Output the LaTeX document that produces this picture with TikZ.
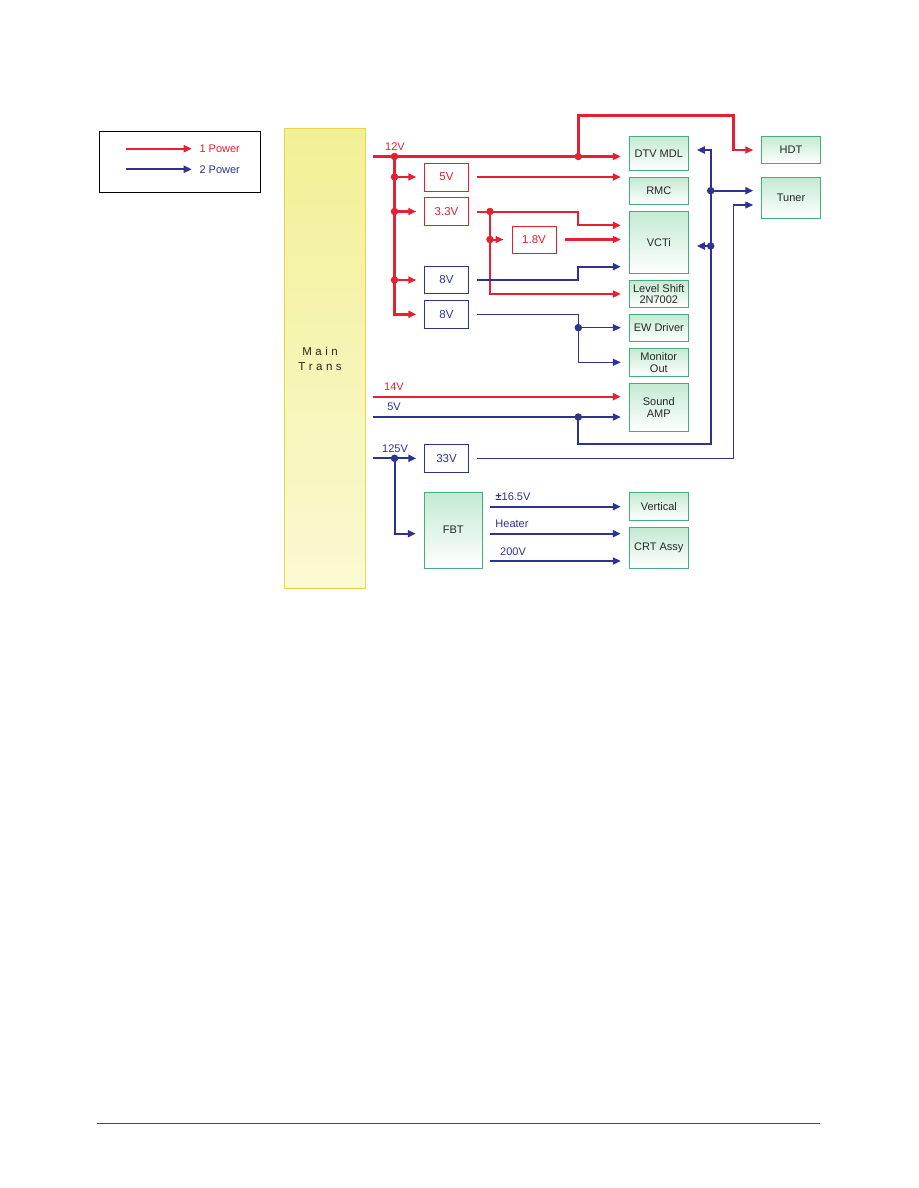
\documentclass[tikz,border=0pt]{standalone}
\usepackage{fontspec}
\setmainfont{Liberation Sans}
\usetikzlibrary{arrows.meta}
\definecolor{pr}{RGB}{228,32,50}
\definecolor{pb}{RGB}{46,50,145}
\definecolor{gb}{RGB}{70,172,125}
\definecolor{gf}{RGB}{196,234,210}
\definecolor{yb}{RGB}{236,212,70}
\definecolor{yt}{RGB}{242,240,150}
\definecolor{ybt}{RGB}{250,249,210}
\begin{document}
\begin{tikzpicture}[x=1pt,y=-1pt,
  lbl/.style={font=\fontsize{11}{12}\selectfont, inner sep=0pt},
  gbox/.style={draw=gb, line width=1pt, top color=gf, bottom color=white, text=black!85,
    font=\fontsize{11}{11.8}\selectfont, align=center, inner sep=0pt},
  rbox/.style={draw=pr, fill=white, text=pr, line width=1pt, font=\fontsize{11.5}{12}\selectfont, inner sep=0pt},
  bbox/.style={draw=pb, fill=white, text=pb, line width=1pt, font=\fontsize{11.5}{12}\selectfont, inner sep=0pt},
  rthick/.style={draw=pr, line width=2.6pt, color=pr},
  rmid/.style={draw=pr, line width=2pt, color=pr},
  bmid/.style={draw=pb, line width=2pt, color=pb},
  bthin/.style={draw=pb, line width=1.3pt, color=pb},
  arr/.style={-{Triangle[length=8pt,width=7pt]}, shorten >=8pt},
  arrL/.style={-{Triangle[length=8pt,width=7pt]}},
  dot/.style={circle, inner sep=0pt, minimum size=7.5pt}
]
\useasboundingbox[fill=white] (0,0) rectangle (918,1188);

% legend
\node[draw=black, line width=1pt, minimum width=161pt, minimum height=61pt, inner sep=0pt] (legend) at (180,162) {};
\coordinate (la1) at (126,148.7);
\coordinate (la2) at (191.7,148.7);
\coordinate (lb1) at (126,169.3);
\coordinate (lb2) at (191.7,169.3);
\draw[rmid,arrL] (la1) -- (la2);
\draw[bmid,arrL] (lb1) -- (lb2);
\node[lbl, text=pr, anchor=west] (l1) at (199.3,148.7) {1 Power};
\node[lbl, text=pb, anchor=west] (l2) at (199.3,169.3) {2 Power};

% main trans
\node[draw=yb, line width=1pt, top color=yt, bottom color=ybt, minimum width=81pt, minimum height=459pt, inner sep=0pt] (main) at (325,358.5) {};
\node[lbl, font=\fontsize{11.5}{12}\selectfont, align=center, text=black!85] (maintxt) at (320,358.5) {M\kern3.5pt a\kern3.5pt i\kern3.5pt n\\[3pt]T\kern3.5pt r\kern3.5pt a\kern3.5pt n\kern3.5pt s};

% value boxes
\node[rbox, minimum width=43.5pt, minimum height=28pt] (v5) at (446.5,177) {5V};
\node[rbox, minimum width=43.5pt, minimum height=28pt] (v33) at (446.5,211.5) {3.3V};
\node[rbox, minimum width=44pt, minimum height=27pt] (v18) at (534,239.5) {1.8V};
\node[bbox, minimum width=43.5pt, minimum height=27pt] (v8a) at (446.5,280) {8V};
\node[bbox, minimum width=43.5pt, minimum height=28pt] (v8b) at (446.5,314.3) {8V};
\node[bbox, minimum width=43.5pt, minimum height=28pt] (v33b) at (446.5,458.3) {33V};
\node[gbox, minimum width=58pt, minimum height=76pt] (fbt) at (453.3,530.2) {FBT};

% destination boxes
\node[gbox, minimum width=59pt, minimum height=34pt] (dtv) at (658.8,153.3) {DTV MDL};
\node[gbox, minimum width=59pt, minimum height=27pt] (rmc) at (658.8,191) {RMC};
\node[gbox, minimum width=59pt, minimum height=62pt] (vcti) at (658.8,242.5) {VCTi};
\node[gbox, minimum width=59pt, minimum height=27pt] (level) at (658.8,294) {Level Shift\\2N7002};
\node[gbox, minimum width=59pt, minimum height=27pt] (ew) at (658.8,327.7) {EW Driver};
\node[gbox, minimum width=59pt, minimum height=28pt] (monitor) at (658.8,362.3) {Monitor\\Out};
\node[gbox, minimum width=59pt, minimum height=48pt] (sound) at (658.8,407.3) {Sound\\AMP};
\node[gbox, minimum width=59pt, minimum height=28pt] (vertical) at (658.8,506.3) {Vertical};
\node[gbox, minimum width=59pt, minimum height=40.5pt] (crt) at (658.8,547.8) {CRT Assy};
\node[gbox, minimum width=58.5pt, minimum height=26.7pt] (hdt) at (791,150) {HDT};
\node[gbox, minimum width=58.5pt, minimum height=40.7pt] (tuner) at (791,198) {Tuner};

% columns and rows
\coordinate (xS) at (372.7,0);
\coordinate (xA) at (394.5,0);
\coordinate (xB) at (490,0);
\coordinate (xC) at (578.3,0);
\coordinate (xD) at (710.7,0);
\coordinate (xE) at (733.3,0);
\coordinate (y12) at (0,156.5);
\coordinate (yTop) at (0,115.7);
\coordinate (yV1) at (0,225.3);
\coordinate (yV3) at (0,266.7);
\coordinate (yDb) at (0,150);
\coordinate (yT1) at (0,190.7);
\coordinate (yT2) at (0,205);
\coordinate (yVb) at (0,246);
\coordinate (y14) at (0,396.7);
\coordinate (y5) at (0,417);
\coordinate (yRet) at (0,444.3);
\coordinate (yF1) at (0,533.7);
\coordinate (y165) at (0,506.7);
\coordinate (y200) at (0,561);

% 12V
\draw[rthick,arr] (xS|-y12) -- (dtv.west|-y12);
\draw[rthick,arr] (xA|-y12) -- (xA|-v8b) -- (v8b.west);
\draw[rthick,arr] (xA|-v5) -- (v5.west);
\draw[rthick,arr] (xA|-v33) -- (v33.west);
\draw[rthick,arr] (xA|-v8a) -- (v8a.west);
\draw[rthick,arr] (xC|-y12) -- (xC|-yTop) -- (xE|-yTop) -- (xE|-hdt) -- (hdt.west);
\node[dot, fill=pr] (d1) at (xA|-y12) {};
\node[dot, fill=pr] (d2) at (xA|-v5) {};
\node[dot, fill=pr] (d3) at (xA|-v33) {};
\node[dot, fill=pr] (d4) at (xA|-v8a) {};
\node[dot, fill=pr] (d5) at (xC|-y12) {};
\node[lbl, text=pr] (t12) at (395,146.5) {12V};

% 5V -> RMC
\draw[rmid,arr,shorten <=8pt] (v5.east) -- (rmc.west|-v5);
% 3.3V
\draw[rmid,arr,shorten <=8pt] (v33.east) -- (xC|-v33) -- (xC|-yV1) -- (vcti.west|-yV1);
\draw[rmid,arr] (xB|-v33) -- (xB|-level) -- (level.west);
\draw[rmid,arr] (xB|-v18) -- (v18.west);
\node[dot, fill=pr] (d6) at (xB|-v33) {};
\node[dot, fill=pr] (d7) at (xB|-v18) {};
% 1.8V
\draw[rthick,arr,shorten <=8pt] (v18.east) -- (vcti.west|-v18);
% 8V a
\draw[bmid,arr,shorten <=8pt] (v8a.east) -- (xC|-v8a) -- (xC|-yV3) -- (vcti.west|-yV3);
% 8V b
\draw[bthin,arr,shorten <=8pt] (v8b.east) -- (xC|-v8b) -- (xC|-monitor) -- (monitor.west);
\draw[bthin,arr] (xC|-ew) -- (ew.west);
\node[dot, fill=pb] (d8) at (xC|-ew) {};

% 14V
\draw[rmid,arr] (xS|-y14) -- (sound.west|-y14);
\node[lbl, text=pr] (t14) at (394,386.7) {14V};
% 5V
\draw[bmid,arr] (xS|-y5) -- (sound.west|-y5);
\node[lbl, text=pb] (t5) at (394,406.7) {5V};
\draw[bmid,arr] (xC|-y5) -- (xC|-yRet) -- (xD|-yRet) -- (xD|-yDb) -- (dtv.east|-yDb);
\draw[bmid,arr] (xD|-yT1) -- (tuner.west|-yT1);
\draw[bmid,arr] (xD|-yVb) -- (vcti.east|-yVb);
\node[dot, fill=pb] (d9) at (xC|-y5) {};
\node[dot, fill=pb] (d10) at (xD|-yT1) {};
\node[dot, fill=pb] (d11) at (xD|-yVb) {};

% 33V
\draw[bthin,arr,shorten <=8pt] (v33b.east) -- (xE|-v33b) -- (xE|-yT2) -- (tuner.west|-yT2);

% 125V
\draw[bmid,arr] (xS|-v33b) -- (v33b.west);
\draw[bmid,arr] (xA|-v33b) -- (xA|-yF1) -- (fbt.west|-yF1);
\node[dot, fill=pb] (d12) at (xA|-v33b) {};
\node[lbl, text=pb] (t125) at (395,448.3) {125V};

% FBT outputs
\draw[bmid,arr] (xB|-y165) -- (vertical.west|-y165);
\draw[bmid,arr] (xB|-yF1) -- (crt.west|-yF1);
\draw[bmid,arr] (xB|-y200) -- (crt.west|-y200);
\node[lbl, text=pb] (t165) at (513,496.7) {\textbf{±}16.5V};
\node[lbl, text=pb] (theat) at (512,524) {Heater};
\node[lbl, text=pb] (t200) at (513,551.3) {200V};

% footer
\coordinate (f1) at (97,1123);
\coordinate (f2) at (820,1123);
\draw[black!70, line width=0.8pt] (f1) -- (f2);
\end{tikzpicture}
\end{document}
